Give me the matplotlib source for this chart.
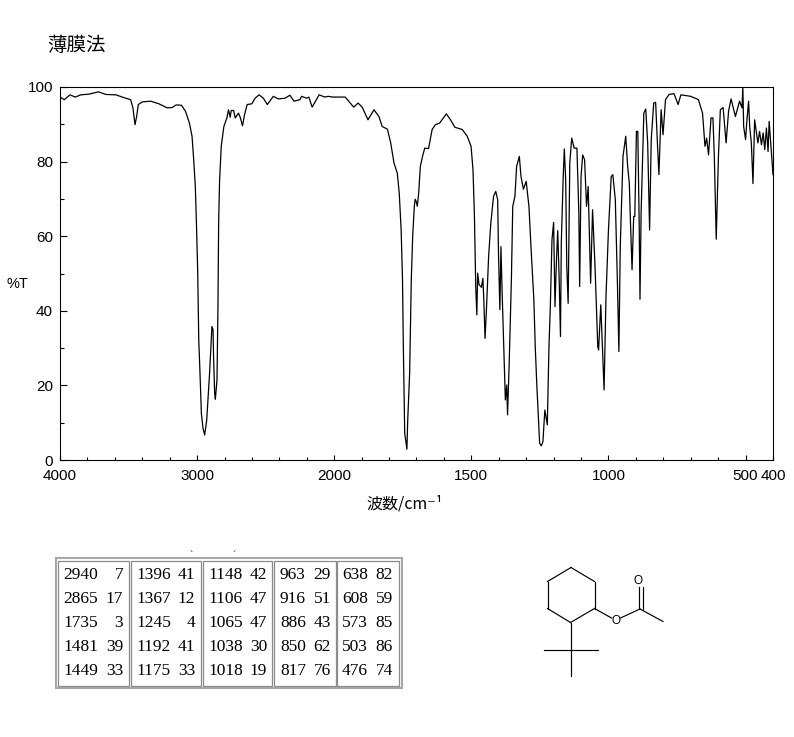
import numpy as np
import matplotlib
matplotlib.use('Agg')
import matplotlib.pyplot as plt
from matplotlib.patches import Rectangle
from matplotlib.ticker import FixedLocator

# spectrum (wavenumber cm-1, %T)
wavenumber = [
    4000, 3969, 3927, 3889, 3848, 3787, 3719, 3666, 3593, 3521,
    3485, 3468, 3453, 3441, 3429, 3400, 3339, 3279, 3218, 3182,
    3153, 3114, 3085, 3056, 3037, 3025, 3013, 3005, 2996, 2988,
    2979, 2969, 2957, 2945, 2930, 2921, 2909, 2899, 2892, 2884,
    2880, 2872, 2867, 2855, 2848, 2843, 2836, 2824, 2805, 2783,
    2771, 2759, 2751, 2734, 2722, 2698, 2684, 2669, 2654, 2635,
    2601, 2577, 2548, 2517, 2488, 2444, 2408, 2359, 2323, 2294,
    2250, 2238, 2202, 2185, 2161, 2110, 2069, 2045, 2008, 1960,
    1929, 1913, 1898, 1877, 1855, 1837, 1825, 1806, 1794, 1782,
    1770, 1763, 1756, 1751, 1748, 1743, 1735,
    1732, 1725, 1719, 1714, 1708, 1705, 1701, 1697, 1692, 1686,
    1678, 1670, 1656, 1643, 1631, 1616, 1591, 1576, 1560, 1533,
    1515, 1501, 1494, 1489, 1484, 1480, 1477, 1472, 1463, 1458,
    1455, 1450, 1445, 1437, 1429, 1419, 1411, 1404, 1401, 1396,
    1392, 1388, 1384, 1376, 1371, 1368, 1362, 1354, 1349, 1341,
    1335, 1325, 1319, 1310, 1300, 1290, 1282, 1272, 1267, 1261,
    1251, 1245, 1239, 1232, 1223, 1217, 1212, 1206, 1200, 1195,
    1190, 1185, 1180, 1175, 1172, 1165, 1161, 1156, 1152, 1147,
    1141, 1134, 1125, 1115, 1108, 1105, 1100, 1094, 1087, 1080,
    1074, 1065, 1058, 1049, 1039, 1036, 1028, 1023, 1016, 1009,
    1000, 990, 984, 975, 967, 962, 957, 947, 937, 930,
    924, 920, 914, 908, 904, 898, 893, 888, 885, 881,
    871, 864, 857, 850, 844, 835, 828, 821, 816, 808,
    801, 792, 779, 761, 746, 736, 700, 672, 657, 648,
    642, 635, 626, 619, 614, 607, 599, 592, 582, 571,
    562, 553, 537, 522, 513, 510, 507, 500, 495, 489,
    485, 479, 473, 467, 455, 449, 442, 436, 430, 424,
    418, 414, 406, 400,
]
transmittance = [
    97.3, 96.6, 97.9, 97.3, 97.9, 98.1, 98.7, 98.0, 97.9, 97.0,
    96.6, 94.4, 89.9, 92.1, 95.3, 96.0, 96.2, 95.5, 94.4, 94.5,
    95.2, 95.1, 93.5, 90.3, 86.8, 80.5, 73.3, 63.5, 51.0, 32.2,
    23.3, 12.5, 8.5, 6.7, 10.7, 16.1, 23.3, 30.4, 35.8, 34.9,
    27.7, 17.9, 16.3, 21.5, 41.1, 63.5, 75.1, 84.1, 89.4, 91.7,
    93.9, 91.9, 93.7, 93.7, 91.7, 93.0, 91.7, 89.6, 92.6, 95.3,
    95.5, 97.0, 97.9, 97.0, 95.3, 97.5, 96.8, 97.0, 97.8, 96.2,
    96.6, 97.5, 97.0, 97.3, 94.6, 97.9, 97.3, 97.5, 97.3, 97.3,
    94.6, 95.7, 94.6, 91.2, 93.9, 92.1, 89.4, 88.7, 85.0, 79.6,
    76.9, 71.6, 61.7, 48.3, 30.4, 7.2, 2.9,
    10.7, 23.3, 48.3, 59.9, 68.0, 69.9, 69.3, 68.0, 71.6, 78.7,
    81.4, 83.6, 83.5, 88.6, 89.9, 90.3, 92.8, 91.2, 89.2, 88.6,
    86.8, 84.1, 77.8, 66.2, 46.5, 38.9, 50.1, 47.0, 46.3, 48.7,
    43.8, 32.6, 40.3, 54.6, 63.5, 70.7, 72.0, 69.8, 55.5, 40.3,
    57.2, 45.6, 35.8, 16.1, 20.1, 12.1, 25.9, 48.3, 68.0, 70.7,
    78.7, 81.4, 76.0, 72.6, 74.7, 68.0, 56.4, 42.9, 30.4, 19.7,
    4.5, 3.8, 4.9, 13.4, 9.4, 30.4, 41.1, 59.0, 63.7, 41.1,
    52.8, 61.5, 49.2, 33.1, 58.1, 76.0, 83.4, 75.1, 51.9, 42.0,
    79.6, 86.3, 83.6, 83.6, 66.2, 46.5, 76.0, 81.8, 80.5, 68.0,
    73.3, 47.4, 67.1, 51.9, 30.4, 29.5, 41.6, 32.2, 18.8, 43.8,
    61.7, 76.0, 76.5, 69.8, 46.5, 29.1, 57.2, 81.4, 86.8, 78.7,
    74.2, 64.4, 51.0, 65.3, 65.3, 88.1, 88.1, 63.5, 43.1, 66.2,
    93.0, 94.1, 85.0, 61.7, 85.9, 95.7, 95.9, 84.1, 76.5, 93.9,
    87.2, 96.6, 98.0, 98.2, 95.3, 97.9, 97.5, 96.6, 93.0, 84.1,
    86.3, 81.8, 91.7, 91.7, 81.4, 59.2, 81.4, 93.9, 94.5, 85.0,
    93.5, 96.8, 92.1, 96.2, 94.4, 100.0, 89.4, 85.9, 91.2, 96.2,
    89.4, 85.0, 74.1, 91.2, 85.0, 88.1, 84.5, 87.7, 83.2, 89.0,
    82.7, 90.8, 82.7, 76.5,
]

x_major = [4000, 3000, 2000, 1500, 1000, 500, 400]
x_minor = [3800, 3600, 3400, 3200, 2800, 2600, 2400, 2200,
           1900, 1800, 1700, 1600, 1400, 1300, 1200, 1100,
           900, 800, 700, 600]
y_major = [0, 20, 40, 60, 80, 100]
y_minor = [10, 30, 50, 70, 90]

# peak table, one list per framed block
peak_wn = [[2940, 2865, 1735, 1481, 1449],
           [1396, 1367, 1245, 1192, 1175],
           [1148, 1106, 1065, 1038, 1018],
           [963, 916, 886, 850, 817],
           [638, 608, 573, 503, 476]]
peak_t = [[7, 17, 3, 39, 33],
          [41, 12, 4, 41, 33],
          [42, 47, 47, 30, 19],
          [29, 51, 43, 62, 76],
          [82, 59, 85, 86, 74]]

W, H = 794, 737


# the axis runs at half scale above 2000 cm-1
def squeeze(x):
    x = np.asarray(x, dtype=float)
    return np.where(x > 2000, 2000 + (x - 2000) / 2, x)


def unsqueeze(x):
    x = np.asarray(x, dtype=float)
    return np.where(x > 2000, 2000 + (x - 2000) * 2, x)


fig = plt.figure(figsize=(W / 100, H / 100), dpi=100)

ax = fig.add_axes([60 / W, (H - 460) / H, 713 / W, 373 / H])
ax.set_xscale('function', functions=(squeeze, unsqueeze))
ax.plot(wavenumber, transmittance, color='black', lw=0.9)
ax.set_xlim(4000, 400)
ax.set_ylim(0, 100)
ax.xaxis.set_major_locator(FixedLocator(x_major))
ax.xaxis.set_minor_locator(FixedLocator(x_minor))
ax.yaxis.set_major_locator(FixedLocator(y_major))
ax.yaxis.set_minor_locator(FixedLocator(y_minor))
ax.set_xticklabels([str(v) for v in x_major])
ax.xaxis.set_minor_formatter(plt.NullFormatter())
ax.tick_params(axis='x', which='major', direction='in', length=3.6, width=0.8, labelsize=11, pad=6.5)
ax.tick_params(axis='x', which='minor', direction='in', length=2.2, width=0.8)
ax.tick_params(axis='y', which='major', direction='in', length=5, width=0.8, labelsize=11, pad=5)
ax.tick_params(axis='y', which='minor', direction='in', length=3.2, width=0.8)
for lab in ax.get_xticklabels() + ax.get_yticklabels():
    lab.set_family('Liberation Sans')
for s in ax.spines.values():
    s.set_linewidth(0.8)

# overlay in pixel coordinates for labels, table and structure
ov = fig.add_axes([0, 0, 1, 1], zorder=-1)
ov.set_xlim(0, W)
ov.set_ylim(H, 0)
ov.axis('off')

cjk = ['Noto Sans CJK JP', 'DejaVu Sans']
ov.text(47, 45, '薄膜法', family=cjk, fontsize=14, va='center', ha='left')
ov.text(405, 504, '波数/cm⁻¹', family=cjk, fontsize=11.5, va='center', ha='center')
ov.text(17, 284, '%T', family='Liberation Sans', fontsize=10.5, va='center', ha='center')

# table frames
ov.add_patch(Rectangle((56, 558), 346, 130, fc='none', ec='#a8a8a8', lw=1.5))
cells = [(58, 129), (131, 201), (203, 272), (274, 336), (337, 399)]
wn_left = [63, 136, 208, 280, 342]
t_right = [123, 195, 267, 331, 393]
rows_y = [575, 599, 623, 647, 671]
for i, (x0, x1) in enumerate(cells):
    ov.add_patch(Rectangle((x0, 561), x1 - x0, 125, fc='none', ec='#8c8c8c', lw=0.9))
    for j, y in enumerate(rows_y):
        ov.text(wn_left[i], y, str(peak_wn[i][j]), family='Liberation Serif',
                fontsize=12.5, va='center', ha='left')
        ov.text(t_right[i], y, str(peak_t[i][j]), family='Liberation Serif',
                fontsize=12.5, va='center', ha='right')
ov.text(191, 555, '`', family='Liberation Serif', fontsize=7, ha='center', va='center')
ov.text(234, 555, '´', family='Liberation Serif', fontsize=7, ha='center', va='center')

# structure
bonds = [
    ((571, 567.5), (594.5, 581.5)), ((594.5, 581.5), (594.5, 608.5)),
    ((594.5, 608.5), (570.5, 622.5)), ((570.5, 622.5), (547.5, 608.5)),
    ((547.5, 608.5), (547.5, 581.5)), ((547.5, 581.5), (571, 567.5)),
    ((570.5, 622.5), (570.5, 676)), ((544, 649.5), (598, 649.5)),
    ((594.5, 608.5), (611.5, 618)), ((620.5, 618), (640, 609)),
    ((640, 609), (663, 621.5)),
    ((638.5, 609), (638.5, 586.5)), ((642.5, 609), (642.5, 586.5)),
]
for (xa, ya), (xb, yb) in bonds:
    ov.plot([xa, xb], [ya, yb], color='black', lw=0.85)
ov.text(616, 621.5, 'O', family='Liberation Sans', fontsize=8.5, ha='center', va='center')
ov.text(638.5, 581.5, 'O', family='Liberation Sans', fontsize=8.5, ha='center', va='center')

fig.savefig('out.png', dpi=100)
